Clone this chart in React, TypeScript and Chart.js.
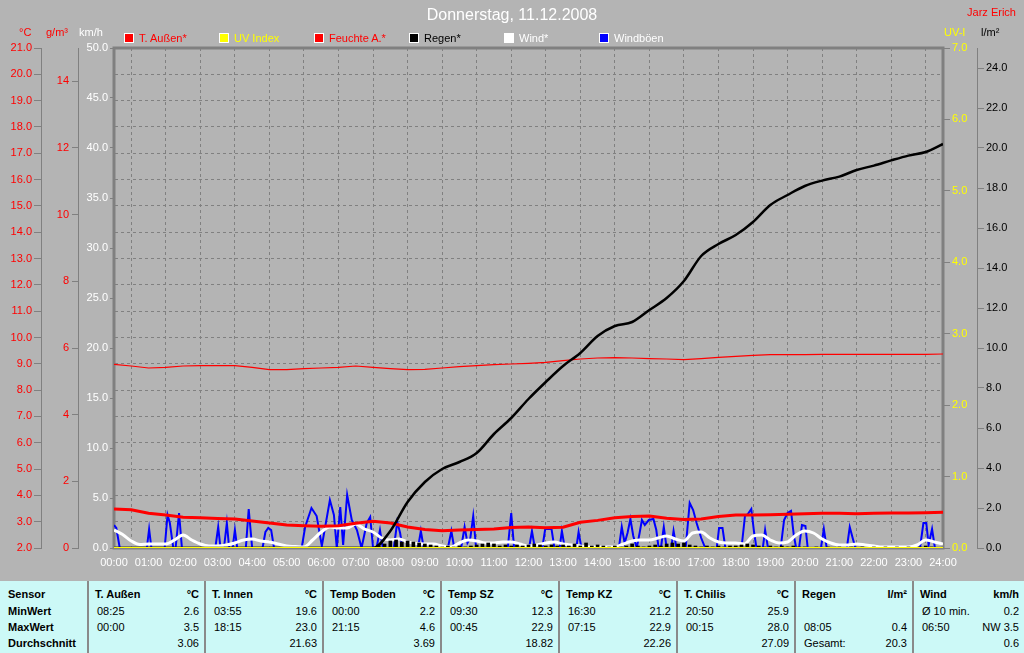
import React, { useEffect, useRef } from 'react';
import { Chart, registerables } from 'chart.js';

Chart.register(...registerables);

// ---------- data ----------
// half-hour series (index * 30 minutes, 00:00 .. 24:00)
const tempOut = [3.48, 3.45, 3.32, 3.25, 3.17, 3.15, 3.12, 3.10, 3.03, 2.95, 2.87, 2.85, 2.83, 2.85, 2.94, 3.02, 2.95, 2.80, 2.70, 2.66, 2.68, 2.70, 2.72, 2.78, 2.80, 2.77, 2.79, 2.98, 3.05, 3.15, 3.20, 3.22, 3.13, 3.08, 3.10, 3.20, 3.25, 3.25, 3.26, 3.28, 3.30, 3.32, 3.32, 3.30, 3.32, 3.33, 3.33, 3.34, 3.36];
const humidityAbs = [5.51, 5.46, 5.40, 5.42, 5.46, 5.47, 5.47, 5.47, 5.42, 5.35, 5.35, 5.38, 5.40, 5.42, 5.46, 5.42, 5.38, 5.35, 5.36, 5.40, 5.44, 5.47, 5.50, 5.52, 5.54, 5.57, 5.62, 5.67, 5.70, 5.71, 5.70, 5.68, 5.67, 5.65, 5.68, 5.72, 5.75, 5.78, 5.80, 5.80, 5.80, 5.81, 5.81, 5.81, 5.81, 5.81, 5.81, 5.81, 5.82];
const rainTotal = [0, 0, 0, 0, 0, 0, 0, 0, 0, 0, 0, 0, 0, 0, 0, 0, 0.85, 2.3, 3.3, 3.95, 4.3, 4.75, 5.7, 6.5, 7.45, 8.3, 9.1, 9.75, 10.6, 11.1, 11.3, 11.9, 12.5, 13.35, 14.6, 15.2, 15.65, 16.3, 17.15, 17.65, 18.1, 18.37, 18.57, 18.9, 19.12, 19.38, 19.62, 19.8, 20.2];
const uvIndex = [0, 0, 0, 0, 0, 0, 0, 0, 0, 0, 0, 0, 0, 0, 0, 0, 0, 0, 0, 0, 0, 0, 0, 0, 0, 0, 0, 0, 0, 0, 0, 0, 0, 0, 0, 0, 0, 0, 0, 0, 0, 0, 0, 0, 0, 0, 0, 0, 0];
// quarter-hour series (index * 15 minutes)
const windAvg = [1.8, 1.35, 0.7, 0.35, 0.4, 0.4, 0.4, 0.8, 1.3, 0.8, 0.4, 0.2, 0.2, 0.3, 0.5, 0.8, 0.9, 0.7, 0.6, 0.4, 0.2, 0.15, 0.1, 0.8, 1.6, 2.1, 2.0, 2.0, 2.4, 1.9, 1.6, 1.0, 0.8, 0.9, 0.6, 0.45, 0.4, 0.4, 0.2, 0.1, 0.5, 0.8, 0.7, 0.5, 0.5, 0.6, 0.6, 0.4, 0.2, 0.3, 0.5, 0.6, 0.4, 0.3, 0.2, 0.1, 0.1, 0.1, 0.1, 0.4, 0.7, 0.8, 0.8, 1.0, 1.2, 0.9, 0.7, 1.5, 1.6, 1.0, 0.6, 0.5, 0.5, 0.4, 1.2, 1.3, 0.8, 0.5, 0.6, 1.3, 1.7, 1.5, 0.9, 0.5, 0.3, 0.3, 0.4, 0.3, 0.2, 0.1, 0.1, 0.1, 0.1, 0.3, 0.8, 0.6, 0.4];
// gusts: irregular samples (minutes of day, km/h)
const gustMinutes = [0, 4, 10, 57, 61, 65, 88, 93, 97, 103, 107, 113, 118, 176, 181, 185, 191, 196, 200, 206, 210, 214, 229, 234, 240, 258, 263, 268, 273, 278, 326, 332, 343, 352, 361, 375, 382, 387, 393, 398, 405, 413, 422, 430, 439, 445, 450, 456, 462, 467, 486, 492, 497, 501, 528, 533, 538, 580, 586, 591, 603, 609, 614, 619, 624, 629, 684, 690, 695, 721, 726, 731, 744, 749, 760, 765, 774, 778, 783, 803, 807, 812, 877, 882, 887, 892, 897, 902, 908, 913, 917, 922, 929, 937, 942, 946, 950, 955, 960, 968, 972, 977, 993, 1000, 1006, 1012, 1020, 1027, 1047, 1051, 1057, 1062, 1090, 1096, 1101, 1107, 1112, 1116, 1127, 1131, 1136, 1158, 1164, 1170, 1176, 1181, 1185, 1190, 1195, 1201, 1205, 1228, 1233, 1238, 1273, 1278, 1284, 1288, 1400, 1406, 1411, 1415, 1421, 1426, 1440];
const gustValues = [2.3, 2.0, 0, 0, 1.9, 0, 0, 3.3, 2.5, 0, 0, 3.5, 0, 0, 2.1, 0, 0, 2.5, 0, 0, 1.8, 0, 0, 3.9, 0, 0, 1.6, 2.0, 1.8, 0, 0, 2.1, 4.0, 3.2, 0.2, 4.8, 3.3, 0, 4.1, 0.3, 5.3, 2.8, 1.8, 0, 2.5, 3.1, 0, 0, 1.8, 0, 0, 2.6, 1.5, 0, 0, 1.7, 0, 0, 1.7, 0, 0, 2.1, 0.5, 1.0, 3.2, 0, 0, 3.5, 0, 0, 1.7, 0, 0, 1.9, 1.9, 0, 0, 1.7, 0, 0, 1.6, 0, 0, 2.1, 0.5, 1.5, 2.9, 1.2, 0, 1.5, 2.8, 2.3, 2.8, 2.9, 1.8, 0, 0, 2.1, 0, 0, 1.7, 0, 0, 4.5, 3.8, 2.5, 1.0, 0, 0, 2.0, 2.0, 0, 0, 3.2, 3.4, 3.9, 1.5, 0, 0, 1.8, 0, 0, 2.8, 3.5, 3.7, 1.2, 0, 0, 2.3, 2.2, 0, 0, 1.9, 0, 0, 2.1, 0.8, 0, 0, 2.5, 2.5, 0.3, 1.9, 0, 0];
// rain per interval (index * 10 minutes, l/m²)
const rainRate = [0, 0, 0, 0, 0, 0, 0, 0, 0, 0, 0, 0, 0, 0, 0, 0, 0, 0, 0, 0, 0, 0, 0, 0, 0, 0, 0, 0, 0, 0, 0, 0, 0, 0, 0, 0, 0, 0, 0, 0, 0, 0, 0, 0, 0, 0, 0.1, 0.2, 0.35, 0.4, 0.3, 0.35, 0.3, 0.25, 0.2, 0.15, 0.1, 0.05, 0.1, 0.05, 0.1, 0.05, 0.1, 0.15, 0.2, 0.25, 0.2, 0.1, 0.15, 0.1, 0.15, 0.1, 0.15, 0.2, 0.15, 0.1, 0.15, 0.1, 0.15, 0.1, 0.2, 0.1, 0.25, 0.1, 0.15, 0.1, 0.05, 0.1, 0.05, 0.1, 0.2, 0.1, 0.05, 0.1, 0.15, 0.1, 0.2, 0.25, 0.2, 0.25, 0.15, 0.1, 0.05, 0.1, 0.05, 0.1, 0.05, 0.1, 0.1, 0.15, 0.2, 0.15, 0.1, 0.05, 0.1, 0.05, 0.1, 0.05, 0.1, 0.05, 0.05, 0, 0.05, 0, 0.05, 0, 0.05, 0, 0.05, 0, 0.05, 0, 0.05, 0, 0.05, 0, 0.05, 0, 0.05, 0, 0.05, 0.1, 0.05, 0, 0];

// legend
const legendLabels = ['T. Außen*', 'UV Index', 'Feuchte A.*', 'Regen*', 'Wind*', 'Windböen'];
const legendBoxColors = ['#ff0000', '#ffff00', '#ff0000', '#000000', '#ffffff', '#0000ff'];
const legendTextColors = ['#ff0000', '#ffff00', '#ff0000', '#000000', '#ffffff', '#ffffff'];

// summary table
const tableSensors = ['T. Außen', 'T. Innen', 'Temp Boden', 'Temp SZ', 'Temp KZ', 'T. Chilis', 'Regen', 'Wind'];
const tableUnits = ['°C', '°C', '°C', '°C', '°C', '°C', 'l/m²', 'km/h'];
const minLeft = ['08:25', '03:55', '00:00', '09:30', '16:30', '20:50', '', 'Ø 10 min.'];
const minRight = ['2.6', '19.6', '2.2', '12.3', '21.2', '25.9', '', '0.2'];
const maxLeft = ['00:00', '18:15', '21:15', '00:45', '07:15', '00:15', '08:05', '06:50'];
const maxRight = ['3.5', '23.0', '4.6', '22.9', '22.9', '28.0', '0.4', 'NW 3.5'];
const avgLeft = ['', '', '', '', '', '', 'Gesamt:', ''];
const avgRight = ['3.06', '21.63', '3.69', '18.82', '22.26', '27.09', '20.3', '0.6'];
const rowLabels = ['Sensor', 'MinWert', 'MaxWert', 'Durchschnitt'];

const FONT = '"Liberation Sans", Arial, sans-serif';
const GRID = '#808080';

const framePlugin = {
  id: 'frame',
  beforeDatasetsDraw(chart: any) {
    const { ctx, chartArea } = chart;
    const { left, top, right, bottom } = chartArea;
    ctx.save();
    ctx.strokeStyle = GRID;
    ctx.lineWidth = 3;
    ctx.strokeRect(left, top, right - left, bottom - top);
    ctx.restore();
  },
};

export default function App() {
  const ref = useRef<HTMLCanvasElement>(null);

  useEffect(() => {
    document.body.style.margin = '0';
    Chart.defaults.font.family = FONT;
    Chart.defaults.font.size = 11;
    const pts = (arr: number[], step: number) => arr.map((v, i) => ({ x: i * step, y: v }));
    const gusts = gustMinutes.map((m, i) => ({ x: m, y: gustValues[i] }));

    const chart = new Chart(ref.current as HTMLCanvasElement, {
      type: 'line',
      data: {
        datasets: [
          { label: 'UV Index', data: pts(uvIndex, 30), yAxisID: 'uv', borderColor: '#ffff00', borderWidth: 2, pointRadius: 0, order: 0 },
          { label: 'Regen*', data: pts(rainTotal, 30), yAxisID: 'rain', borderColor: '#000000', borderWidth: 2.5, pointRadius: 0, cubicInterpolationMode: 'monotone', order: 1 },
          { type: 'bar', label: 'Regen Rate', data: pts(rainRate, 10), yAxisID: 'rain', backgroundColor: '#000000', barThickness: 3, order: 2 } as any,
          { label: 'T. Außen*', data: pts(tempOut, 30), yAxisID: 'temp', borderColor: '#ff0000', borderWidth: 3, pointRadius: 0, order: 3 },
          { label: 'Feuchte A.*', data: pts(humidityAbs, 30), yAxisID: 'hum', borderColor: '#ff0000', borderWidth: 1.2, pointRadius: 0, order: 4 },
          { label: 'Wind*', data: pts(windAvg, 15), yAxisID: 'wind', borderColor: '#ffffff', borderWidth: 3, pointRadius: 0, cubicInterpolationMode: 'monotone', order: 5 },
          { label: 'Windböen', data: gusts, yAxisID: 'wind', borderColor: '#0000ff', borderWidth: 2, pointRadius: 0, order: 6 },
        ] as any,
      },
      options: {
        responsive: false,
        animation: false,
        devicePixelRatio: 1,
        layout: { padding: { top: 48, left: 0, right: 0, bottom: 0 } },
        plugins: { legend: { display: false }, tooltip: { enabled: false }, title: { display: false } },
        scales: {
          x: {
            type: 'linear', min: 0, max: 1440, offset: false,
            ticks: {
              stepSize: 60, autoSkip: false, maxRotation: 0, color: '#ffffff', padding: 8,
              callback: (v: any) => `${String(Math.round(Number(v) / 60)).padStart(2, '0')}:00`,
            },
            grid: { color: GRID, drawTicks: false, lineWidth: 1 },
            border: { display: false, dash: [3, 3] },
            afterFit: (s: any) => { s.height = 30; },
          },
          temp: {
            type: 'linear', position: 'left', weight: 2, min: 2, max: 21,
            ticks: { stepSize: 1, color: '#ff0000', padding: 2, callback: (v: any) => Number(v).toFixed(1) },
            grid: { color: GRID, tickColor: GRID, tickLength: 7, drawOnChartArea: true },
            border: { display: true, color: GRID, width: 1, dash: [3, 3] },
            afterFit: (s: any) => { s.width = 41; },
          },
          hum: {
            type: 'linear', position: 'left', weight: 1, min: 0, max: 15,
            ticks: { stepSize: 2, color: '#ff0000', padding: 3, callback: (v: any) => String(v) },
            afterBuildTicks: (s: any) => { s.ticks = s.ticks.filter((t: any) => t.value % 2 === 0); },
            grid: { color: GRID, tickColor: GRID, tickLength: 6, drawOnChartArea: false },
            border: { display: true, color: GRID, width: 1 },
            afterFit: (s: any) => { s.width = 37; },
          },
          wind: {
            type: 'linear', position: 'left', weight: 0, min: 0, max: 50,
            ticks: { stepSize: 5, color: '#ffffff', padding: 2, callback: (v: any) => Number(v).toFixed(1) },
            grid: { color: GRID, tickColor: GRID, tickLength: 4, drawOnChartArea: false },
            border: { display: false },
            afterFit: (s: any) => { s.width = 36; },
          },
          uv: {
            type: 'linear', position: 'right', weight: 0, min: 0, max: 7,
            ticks: { stepSize: 1, color: '#ffff00', padding: 2, callback: (v: any) => Number(v).toFixed(1) },
            grid: { color: GRID, tickColor: GRID, tickLength: 7, drawOnChartArea: false },
            border: { display: false },
            afterFit: (s: any) => { s.width = 34; },
          },
          rain: {
            type: 'linear', position: 'right', weight: 1, min: 0, max: 25,
            ticks: { stepSize: 2, color: '#000000', padding: 2, callback: (v: any) => Number(v).toFixed(1) },
            afterBuildTicks: (s: any) => { s.ticks = s.ticks.filter((t: any) => t.value % 2 === 0); },
            grid: { color: GRID, tickColor: GRID, tickLength: 7, drawOnChartArea: false },
            border: { display: true, color: GRID, width: 1 },
            afterFit: (s: any) => { s.width = 47; },
          },
        } as any,
      },
      plugins: [framePlugin],
    });
    return () => chart.destroy();
  }, []);

  const txt = (content: string, style: React.CSSProperties, key?: string | number) => (
    <div key={key} style={{ position: 'absolute', fontSize: 11, lineHeight: '14px', whiteSpace: 'nowrap', ...style }}>{content}</div>
  );

  const sepX = [87, 204, 322, 440, 558, 676, 794, 912];
  const rowTops = [587, 604, 620, 636];

  return (
    <div style={{ position: 'relative', width: 1024, height: 653, background: '#b4b4b4', fontFamily: FONT, overflow: 'hidden' }}>
      <canvas ref={ref} width={1024} height={578} style={{ position: 'absolute', left: 0, top: 0 }} />
      {/* title */}
      <div style={{ position: 'absolute', left: 0, top: 5, width: 1024, textAlign: 'center', color: '#ffffff', fontSize: 16, lineHeight: '20px' }}>Donnerstag, 11.12.2008</div>
      {txt('Jarz Erich', { right: 8, top: 5, color: '#ff0000' })}
      {/* axis units */}
      {txt('°C', { left: 19, top: 25, color: '#ff0000' })}
      {txt('g/m³', { left: 46, top: 25, color: '#ff0000' })}
      {txt('km/h', { left: 79, top: 25, color: '#ffffff' })}
      {txt('UV-I', { left: 944, top: 25, color: '#ffff00' })}
      {txt('l/m²', { left: 981, top: 25, color: '#000000' })}
      {/* legend */}
      {legendLabels.map((lab, i) => (
        <div key={lab} style={{ position: 'absolute', left: 124 + i * 95, top: 31, height: 14, display: 'flex', alignItems: 'center' }}>
          <div style={{ width: 8, height: 8, border: '1px solid #ffffff', background: legendBoxColors[i] }} />
          <div style={{ marginLeft: 5, fontSize: 11, lineHeight: '14px', color: legendTextColors[i], whiteSpace: 'nowrap' }}>{lab}</div>
        </div>
      ))}
      {/* summary table */}
      <div style={{ position: 'absolute', left: 0, top: 581, width: 1024, height: 72, background: '#ccf9f7' }}>
        {sepX.map((x) => (
          <div key={x} style={{ position: 'absolute', left: x, top: 0, width: 2, height: 72, background: '#8a8a8a' }} />
        ))}
      </div>
      {rowLabels.map((r, i) => txt(r, { left: 8, top: rowTops[i], fontWeight: 'bold', color: '#000' }, 'rl' + i))}
      {tableSensors.map((s, c) => {
        const left = sepX[c] + 2;
        const right = c < sepX.length - 1 ? sepX[c + 1] : 1024;
        const w = right - left;
        const leftCells = [s, minLeft[c], maxLeft[c], avgLeft[c]];
        const rightCells = [tableUnits[c], minRight[c], maxRight[c], avgRight[c]];
        return (
          <React.Fragment key={s}>
            {leftCells.map((t, r) => txt(t, { left: left + (r === 0 ? 6 : 8), top: rowTops[r], fontWeight: r === 0 ? 'bold' : 'normal', color: '#000' }, s + 'l' + r))}
            {rightCells.map((t, r) => txt(t, { left, width: w - 5, textAlign: 'right', top: rowTops[r], fontWeight: r === 0 ? 'bold' : 'normal', color: '#000' }, s + 'r' + r))}
          </React.Fragment>
        );
      })}
    </div>
  );
}
